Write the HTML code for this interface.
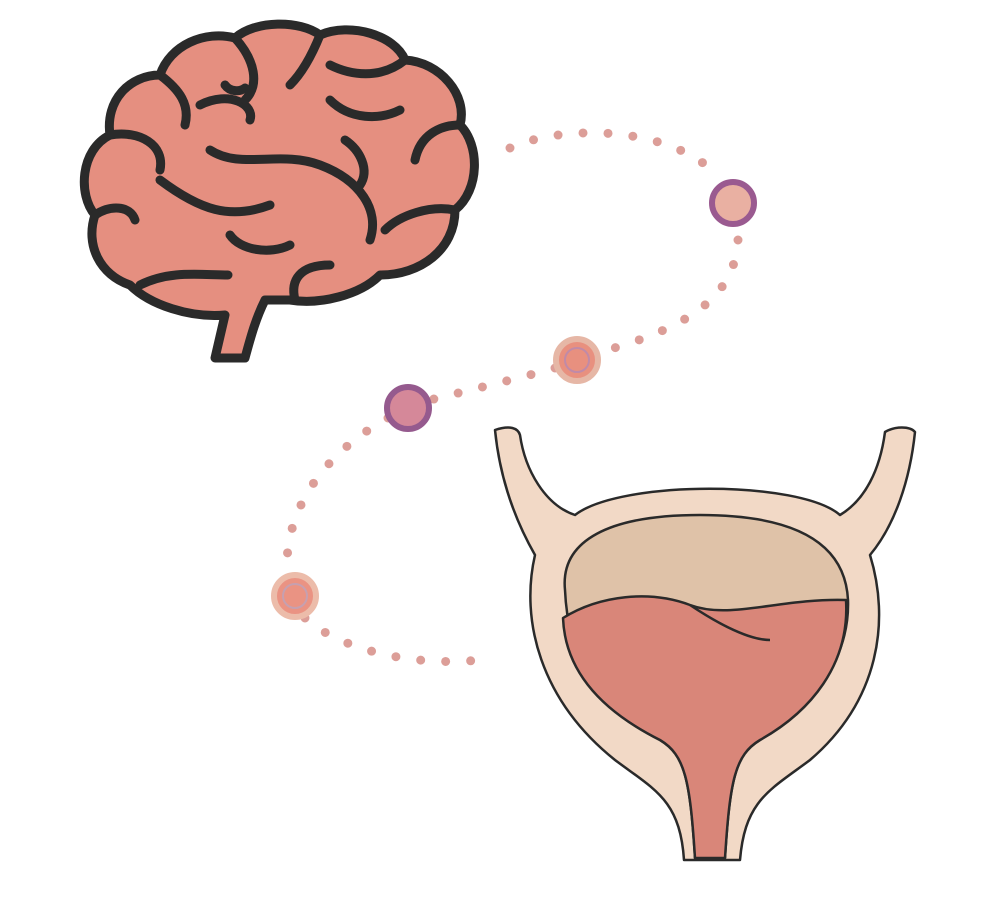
<!DOCTYPE html>
<html><head><meta charset="utf-8"><style>
html,body{margin:0;padding:0;background:#fff;width:985px;height:898px;overflow:hidden}
svg{display:block}
</style></head><body>
<svg width="985" height="898" viewBox="0 0 985 898" xmlns="http://www.w3.org/2000/svg">
<path d="M510 148 C560 125 660 125 712 170 M738 240 C735 290 700 325 600 352 M555 368 C520 378 470 390 430 400 M388 418 C330 450 290 500 287 560 M305 618 C340 650 420 670 495 658"
 fill="none" stroke="#dc9e98" stroke-width="9" stroke-linecap="round" stroke-dasharray="0 25"/>
<circle cx="733" cy="203" r="21" fill="#e9b0a2" stroke="#9a5a90" stroke-width="6"/>
<circle cx="577" cy="360" r="21" fill="#e8907f" stroke="#e6b7a6" stroke-width="6"/>
<circle cx="577" cy="360" r="12" fill="none" stroke="#c08aa8" stroke-width="2"/>
<circle cx="408" cy="408" r="21" fill="#d58899" stroke="#955a8e" stroke-width="6"/>
<circle cx="295" cy="596" r="21" fill="#ea9383" stroke="#ecbcaa" stroke-width="6"/>
<circle cx="295" cy="596" r="12" fill="none" stroke="#c6a0b0" stroke-width="2"/>

<g stroke="#2a2a2a" stroke-width="9" stroke-linecap="round" stroke-linejoin="round" fill="#e58f80">
<path d="M215 358 L225 315 C190 318 150 305 130 285 C100 275 85 245 95 215 C78 195 80 150 110 135 C105 100 130 75 160 75 C170 45 205 30 235 38 C255 20 300 20 320 35 C350 22 395 35 405 60 C440 62 468 95 460 125 C480 145 480 190 455 210 C455 250 420 275 380 275 C360 295 320 305 290 300 L265 300 C255 320 250 340 245 358 Z"/>
<g fill="none">
<path d="M140 285 C170 270 200 275 228 275"/>
<path d="M295 300 C290 280 300 265 330 265"/>
<path d="M110 135 C140 130 165 145 160 170"/>
<path d="M95 215 C110 205 130 205 135 220"/>
<path d="M160 75 C180 90 190 105 185 125"/>
<path d="M200 105 C230 90 255 105 250 120"/>
<path d="M235 38 C255 60 260 85 245 100"/>
<path d="M320 35 C310 60 300 75 290 85"/>
<path d="M405 60 C380 80 350 75 330 65"/>
<path d="M460 125 C440 125 420 135 415 160"/>
<path d="M455 210 C430 205 400 215 385 230"/>
<path d="M210 150 C240 170 280 150 320 165 C360 180 380 210 370 240"/>
<path d="M160 180 C200 210 230 220 270 205"/>
<path d="M230 235 C240 250 270 255 290 245"/>
<path d="M330 100 C350 120 380 120 400 110"/>
<path d="M345 140 C360 150 370 170 360 185"/>
<path d="M225 85 C230 92 240 92 245 88"/>
</g>
</g>

<g stroke="#2a2a2a" stroke-width="2.5" stroke-linejoin="round">
<path d="M495 430 C510 425 518 428 520 435 C525 470 545 505 575 515 C620 480 800 480 840 515 C865 500 880 470 885 432 C895 426 910 426 915 432 C910 480 895 525 870 555 C890 620 880 700 810 760 C770 790 745 800 740 860 L684 860 C680 800 655 790 615 760 C540 700 520 620 535 555 C515 520 500 480 495 430 Z" fill="#f2d9c6"/>
<path d="M565 590 C560 540 610 515 700 515 C790 515 845 540 848 600 C850 660 810 710 760 740 C735 755 730 780 725 858 L695 858 C690 780 685 755 660 740 C600 710 568 660 565 590 Z" fill="#dfc2a8"/>
<path d="M563 618 C600 595 650 590 690 605 C730 620 780 598 846 600 C850 665 810 712 760 740 C735 755 730 780 725 858 L695 858 C690 780 685 755 660 740 C600 710 565 670 563 618 Z" fill="#d98679"/>
<path d="M690 605 C720 625 750 640 770 640" fill="none"/>
</g>
</svg>
</body></html>
